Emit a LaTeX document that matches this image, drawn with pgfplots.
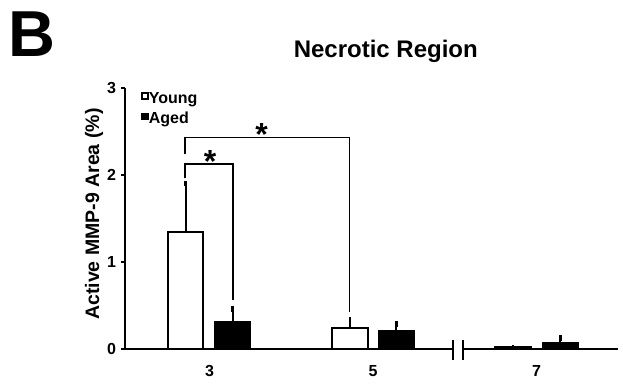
\documentclass[border=0pt]{standalone}
\usepackage{pgfplots}
\pgfplotsset{compat=1.18}
\usepackage{fontspec}
\setmainfont{Liberation Sans}
\begin{document}
\begin{tikzpicture}[x=1pt,y=1pt]
\useasboundingbox (0,0) rectangle (623,385);
\node[anchor=base west, inner sep=0pt, font=\fontsize{65}{65}\selectfont\bfseries] at (8,328) {B};
\begin{axis}[
  at={(125pt,36pt)}, anchor=south west,
  scale only axis, width=493pt, height=261pt,
  xmin=-0.517, xmax=2.498, ymin=0, ymax=3,
  clip=false,
  axis x line*=bottom, axis y line*=left,
  axis line style={line width=2pt, -},
  xtick={0,1,2}, xticklabels={3,5,7},
  ytick={0,1,2,3},
  tick align=outside,
  major tick length=4pt,
  tick style={line width=1.5pt, black},
  xtick style={draw=none},
  /pgf/number format/assume math mode=true,
  ticklabel style={font=\fontsize{16}{16}\selectfont\bfseries},
  xticklabel style={yshift=-9pt},
  yticklabel style={xshift=-1.5pt},
  title={Necrotic Region},
  title style={font=\fontsize{24}{24}\selectfont\bfseries, at={(axis description cs:0.529,1.0946)}, anchor=base},
  ylabel={Active MMP-9 Area (\%)},
  ylabel style={font=\fontsize{19.5}{19.5}\selectfont\bfseries, at={(axis description cs:-0.0527,0.517)}, anchor=base},
  legend cell align=left,
  legend image code/.code={\draw[#1, line width=1.6pt] (0.5pt,0.75pt) rectangle (6.5pt,6.75pt);},
  legend style={at={(axis description cs:0.033,0.9835)}, anchor=north west, draw=none, fill=none,
    inner sep=0pt, outer sep=0pt, row sep=5.5pt,
    font=\fontsize{16}{16}\selectfont\bfseries,
    nodes={inner sep=0pt, text height=11pt, text depth=3.5pt},
    /tikz/every even column/.append style={column sep=1.5pt}},
]
\addplot[ybar, bar width=0.215, bar shift=0pt, draw=black, fill=white, line width=2pt,
  error bars/.cd, y dir=plus, y explicit,
  error bar style={line width=2pt, black},
  error mark options={line width=2.8pt, mark size=2.6pt, black}]
  table[x=x, y=y, y error=e] {
x y e
-0.145 1.35 0.55
0.859 0.238 0.10
1.856 0.02 0.0
};
\addlegendentry{Young}
\addplot[ybar, bar width=0.215, bar shift=0pt, draw=black, fill=black, line width=2pt,
  error bars/.cd, y dir=plus, y explicit,
  error bar style={line width=2pt, black},
  error mark options={line width=2.8pt, mark size=2.6pt, black}]
  table[x=x, y=y, y error=e] {
x y e
0.141 0.314 0.146
1.141 0.21 0.077
2.144 0.072 0.054
};
\addlegendentry{Aged}
% significance brackets
\draw[line width=1.6pt] (axis cs:-0.150,1.962) -- (axis cs:-0.150,2.126) -- (axis cs:0.142,2.126) -- (axis cs:0.142,0.563);
\draw[line width=1.6pt] (axis cs:-0.150,2.238) -- (axis cs:-0.150,2.429) -- (axis cs:0.855,2.429) -- (axis cs:0.855,0.425);
\node[font=\fontsize{32}{32}\selectfont\bfseries, inner sep=0pt, anchor=base, yshift=-17.5pt] at (axis cs:0.003,2.23) {*};
\node[font=\fontsize{32}{32}\selectfont\bfseries, inner sep=0pt, anchor=base, yshift=-17.5pt] at (axis cs:0.319,2.537) {*};
\coordinate (bA) at (axis cs:1.489,0);
\coordinate (bB) at (axis cs:1.550,0);
\end{axis}
\fill[white] ([yshift=-2pt]bA) rectangle ([yshift=2pt]bB);
\draw[line width=1.6pt] ([yshift=9pt]bA) -- ([yshift=-11pt]bA);
\draw[line width=1.6pt] ([yshift=9pt]bB) -- ([yshift=-11pt]bB);
\end{tikzpicture}
\end{document}
